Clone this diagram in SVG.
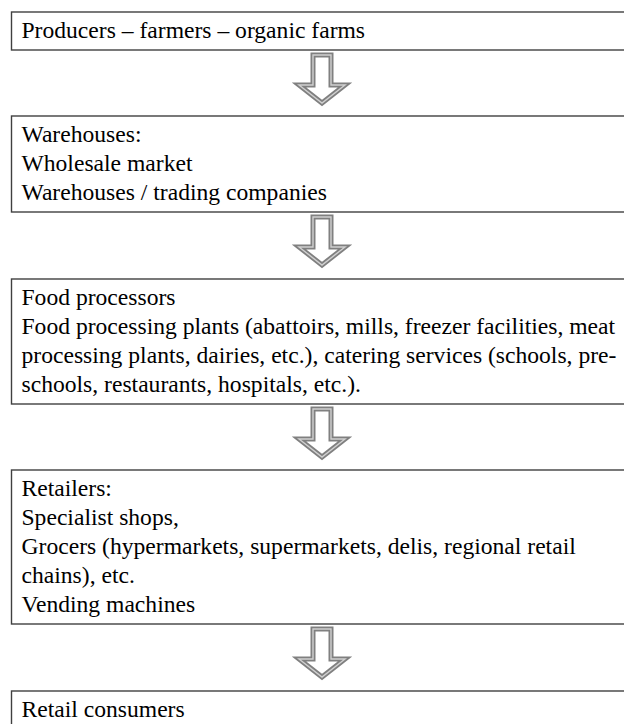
<svg xmlns="http://www.w3.org/2000/svg" width="624" height="724" viewBox="0 0 624 724">
<defs>
<style>
.box{fill:#fff;stroke:#404040;stroke-width:1.4}
.t{font-family:"Liberation Serif","Times New Roman",serif;font-size:23.6px;fill:#000}
.ao{fill:#fff;stroke:#808080;stroke-width:5;stroke-linejoin:miter}
.ai{fill:none;stroke:#d0d0d0;stroke-width:1.4;stroke-linejoin:miter}
</style>
<polygon id="arrowShape" points="313,0 331,0 331,30 345,30 322,48 299,30 313,30"/>
</defs>
<rect width="624" height="724" fill="#fff"/>
<g id="connectors">
<g transform="translate(0,55)"><use href="#arrowShape" class="ao"/><use href="#arrowShape" class="ai"/></g>
<g transform="translate(0,217)"><use href="#arrowShape" class="ao"/><use href="#arrowShape" class="ai"/></g>
<g transform="translate(0,409)"><use href="#arrowShape" class="ao"/><use href="#arrowShape" class="ai"/></g>
<g transform="translate(0,629)"><use href="#arrowShape" class="ao"/><use href="#arrowShape" class="ai"/></g>
</g>
<g id="producers">
<rect class="box" x="11.5" y="12" width="640" height="38"/>
<text class="t" x="21.5" y="38">Producers – farmers – organic farms</text>
</g>
<g id="warehouses">
<rect class="box" x="11.5" y="116" width="640" height="96"/>
<text class="t" x="21.5" y="142">Warehouses:</text>
<text class="t" x="21.5" y="171">Wholesale market</text>
<text class="t" x="21.5" y="200">Warehouses / trading companies</text>
</g>
<g id="processors">
<rect class="box" x="11.5" y="279" width="640" height="125"/>
<text class="t" x="21.5" y="305">Food processors</text>
<text class="t" x="21.5" y="334">Food processing plants (abattoirs, mills, freezer facilities, meat</text>
<text class="t" x="21.5" y="363">processing plants, dairies, etc.), catering services (schools, pre-</text>
<text class="t" x="21.5" y="392">schools, restaurants, hospitals, etc.).</text>
</g>
<g id="retailers">
<rect class="box" x="11.5" y="470" width="640" height="154"/>
<text class="t" x="21.5" y="496">Retailers:</text>
<text class="t" x="21.5" y="525">Specialist shops,</text>
<text class="t" x="21.5" y="554">Grocers (hypermarkets, supermarkets, delis, regional retail</text>
<text class="t" x="21.5" y="583">chains), etc.</text>
<text class="t" x="21.5" y="612">Vending machines</text>
</g>
<g id="consumers">
<rect class="box" x="11.5" y="691" width="640" height="60"/>
<text class="t" x="21.5" y="717">Retail consumers</text>
</g>
</svg>
